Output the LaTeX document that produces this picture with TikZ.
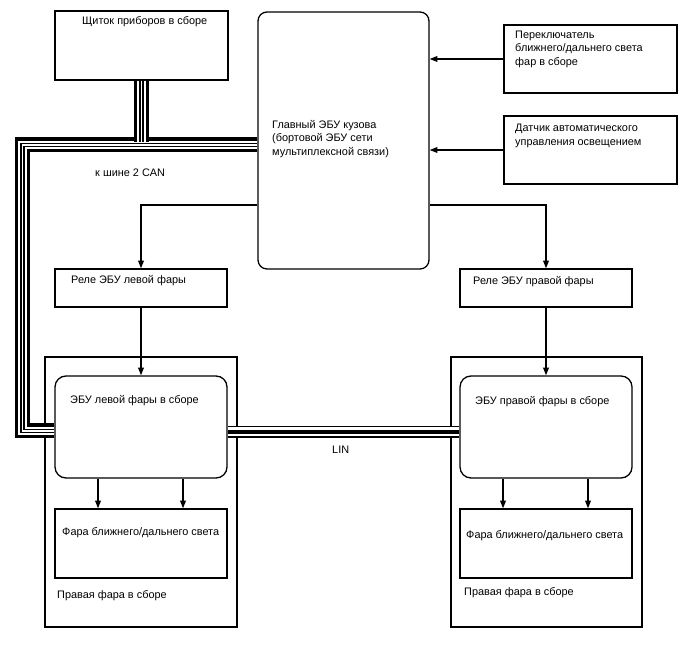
\documentclass[tikz,border=0pt]{standalone}
\usepackage{fontspec}
\setmainfont{Liberation Sans}
\usepackage{tikz}
\usetikzlibrary{arrows.meta,calc}
\tikzset{
  hlbox/.style={draw=black, line width=1.1pt, inner sep=0pt},
  hlecu/.style={draw=black, line width=1.1pt, inner sep=0pt, rounded corners=0.33cm},
  hltxt/.style={anchor=west, align=left, inner sep=0pt},
  hlline/.style={-{Triangle[length=2.3mm,width=1.7mm]}, line width=1.1pt},
  canbus/.style={line width=0.45cm, postaction={draw=white, line width=0.25cm}, postaction={draw=black, line width=0.13cm}, postaction={draw=white, line width=0.045cm}},
  linbus/.style={line width=0.36cm, postaction={draw=white, line width=0.27cm}, postaction={draw=black, line width=0.1cm}}
}
\begin{document}
\begin{tikzpicture}[every node/.style={font=\fontsize{9.3pt}{11.5pt}\selectfont}]
  \useasboundingbox (0,0) rectangle (20.64,19.74);

  \node[hlbox, minimum width=5.19cm, minimum height=2.07cm] (shield) at (4.245,18.375) {};
  \node[hlecu, rounded corners=0.27cm, minimum width=5.13cm, minimum height=7.71cm] (bcm) at (10.305,15.525) {};
  \node[hlbox, minimum width=5.19cm, minimum height=2.04cm] (sw) at (17.715,17.97) {};
  \node[hlbox, minimum width=5.19cm, minimum height=2.04cm] (sens) at (17.715,15.24) {};
  \node[hlbox, minimum width=5.16cm, minimum height=1.14cm] (lrel) at (4.23,11.1) {};
  \node[hlbox, minimum width=5.16cm, minimum height=1.14cm] (rrel) at (16.38,11.1) {};
  \node[hlbox, minimum width=5.76cm, minimum height=8.1cm] (lassy) at (4.23,4.98) {};
  \node[hlbox, minimum width=5.73cm, minimum height=8.1cm] (rassy) at (16.395,4.98) {};
  \node[hlecu, minimum width=5.16cm, minimum height=3.06cm] (lecu) at (4.23,6.93) {};
  \node[hlecu, minimum width=5.16cm, minimum height=3.06cm] (recu) at (16.38,6.93) {};
  \node[hlbox, minimum width=5.16cm, minimum height=2.07cm] (llamp) at (4.23,3.435) {};
  \node[hlbox, minimum width=5.16cm, minimum height=2.07cm] (rlamp) at (16.38,3.435) {};

  \node[hltxt] (shield-t) at (2.46,19.08) {Щиток приборов в сборе};
  \node[hltxt] (bcm-t) at (8.16,15.57) {Главный ЭБУ кузова\\(бортовой ЭБУ сети\\мультиплексной связи)};
  \node[hltxt] (sw-t) at (15.45,18.27) {Переключатель\\ближнего/дальнего света\\фар в сборе};
  \node[hltxt] (sens-t) at (15.45,15.66) {Датчик автоматического\\управления освещением};
  \node[hltxt] (lrel-t) at (2.13,11.31) {Реле ЭБУ левой фары};
  \node[hltxt] (rrel-t) at (14.19,11.28) {Реле ЭБУ правой фары};
  \node[hltxt] (lecu-t) at (2.1,7.71) {ЭБУ левой фары в сборе};
  \node[hltxt] (recu-t) at (14.25,7.68) {ЭБУ правой фары в сборе};
  \node[hltxt] (llamp-t) at (1.86,3.75) {Фара ближнего/дальнего света};
  \node[hltxt] (rlamp-t) at (13.98,3.66) {Фара ближнего/дальнего света};
  \node[hltxt] (lassy-t) at (1.71,1.86) {Правая фара в сборе};
  \node[hltxt] (rassy-t) at (13.92,1.95) {Правая фара в сборе};
  \node[hltxt] (can-t) at (2.85,14.55) {к шине 2 CAN};
  \node[hltxt] (lin-t) at (9.96,6.24) {LIN};

  \draw[hlline] (sw.west) -- (sw.west -| bcm.east);
  \draw[hlline] (sens.west) -- (sens.west -| bcm.east);
  \draw[hlline] ([yshift=-1.935cm]bcm.west) -| (lrel.north);
  \draw[hlline] ([yshift=-1.935cm]bcm.east) -| (rrel.north);
  \draw[hlline] (lrel.south) -- (lecu.north);
  \draw[hlline] (rrel.south) -- (recu.north);
  \foreach \n/\m in {lecu/llamp, recu/rlamp} {
    \draw[hlline] ([xshift=-1.29cm]\n.south) -- ([xshift=-1.29cm]\m.north);
    \draw[hlline] ([xshift=1.26cm]\n.south) -- ([xshift=1.26cm]\m.north);
  }

  \coordinate (canA) at (0.675,15.39);
  \coordinate (canB) at (0.675,6.81);
  \coordinate (canJ) at (0,15.465);
  \draw[canbus] (bcm.west |- canA) -- (canA) -- (canB) -- (canB -| lecu.west);
  \draw[canbus] (shield.south) -- (shield.south |- canJ);
  \draw[linbus] ([yshift=-0.15cm]lecu.east) -- ([yshift=-0.15cm]recu.west);
\end{tikzpicture}
\end{document}
